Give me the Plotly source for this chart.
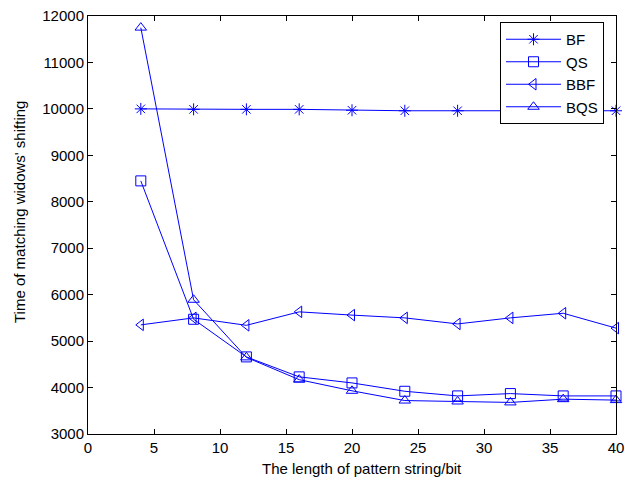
import plotly.graph_objects as go

x_vals = [4, 8, 12, 16, 20, 24, 28, 32, 36, 40]
bf = [10000, 9990, 9990, 9990, 9970, 9960, 9960, 9960, 9960, 9960]
qs = [8450, 5470, 4660, 4230, 4100, 3920, 3820, 3870, 3820, 3820]
bbf = [5350, 5500, 5340, 5630, 5560, 5500, 5370, 5500, 5600, 5280]
bqs = [11750, 5890, 4650, 4170, 3930, 3720, 3700, 3680, 3750, 3730]

series = [("BF", bf, "asterisk-open"), ("QS", qs, "square-open"),
          ("BBF", bbf, "triangle-left-open"), ("BQS", bqs, "triangle-up-open")]

font_family = "Arial, Liberation Sans, sans-serif"
W, H = 625, 480
L, R, T, B = 88, 9, 16, 46
plot_w = W - L - R
plot_h = H - T - B

fig = go.Figure()
for name, vals, sym in series:
    fig.add_trace(go.Scatter(
        x=x_vals, y=vals, name=name, mode="lines+markers",
        line=dict(color="#0000ff", width=1),
        marker=dict(symbol=sym, size=10, color="#0000ff", line=dict(width=1, color="#0000ff")),
        cliponaxis=False,
    ))

axis_common = dict(showline=True, linecolor="black", linewidth=1, mirror="ticks",
                   ticks="inside", ticklen=5, tickcolor="black", showgrid=False,
                   zeroline=False, automargin=False, ticklabeloverflow="allow",
                   tickfont=dict(family=font_family, size=15, color="black"))
fig.update_xaxes(range=[0, 40], tickvals=list(range(0, 41, 5)), **axis_common)
fig.update_yaxes(range=[3000, 12000], tickvals=list(range(3000, 12001, 1000)),
                 tickformat="d", **axis_common)

def px_x(px):
    return (px - L) / plot_w

def px_y(py):
    return (H - B - py) / plot_h

fig.update_layout(
    width=W, height=H,
    margin=dict(l=L, r=R, t=T, b=B, autoexpand=False),
    plot_bgcolor="white", paper_bgcolor="white",
    font=dict(family=font_family, size=15, color="black"),
    showlegend=True,
    legend=dict(x=px_x(500), y=px_y(22), xanchor="left", yanchor="top",
                bgcolor="white", bordercolor="black", borderwidth=1,
                itemwidth=55, font=dict(size=15), tracegroupgap=0),
    annotations=[
        dict(text="The length of pattern string/bit", x=px_x(362), y=px_y(468),
             xref="paper", yref="paper", xanchor="center", yanchor="middle",
             showarrow=False, font=dict(size=15)),
        dict(text="Time of matching widows' shifting", x=px_x(19), y=px_y(212),
             xref="paper", yref="paper", xanchor="center", yanchor="middle",
             showarrow=False, textangle=-90, font=dict(size=15)),
    ],
)

# remove the browser's default 8px body margin so the figure sits at the page origin
fig.write_html("out.html", config={"displayModeBar": False},
               post_script="document.body.style.margin='0';")
